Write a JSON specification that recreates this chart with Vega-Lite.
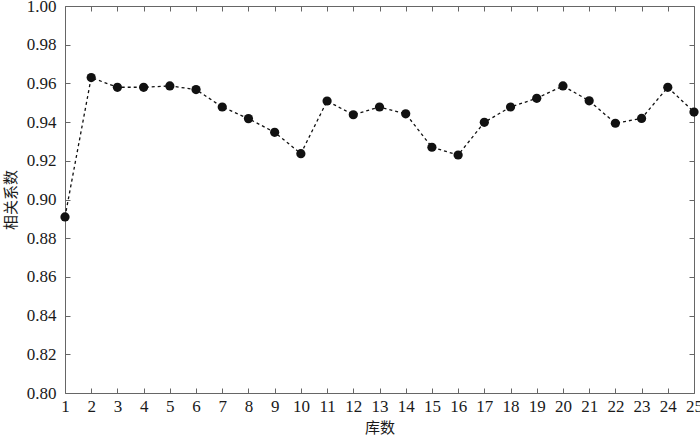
{
  "$schema": "https://vega.github.io/schema/vega-lite/v6.json",
  "width": 629,
  "height": 387,
  "autosize": {"type": "none"},
  "padding": {"left": 65, "top": 6, "right": 6, "bottom": 44},
  "background": "white",
  "config": {
    "view": {"stroke": null},
    "axis": {
      "labelFont": "Liberation Serif",
      "labelFontSize": 17,
      "labelColor": "#1a1a1a",
      "titleFont": "Noto Sans CJK SC",
      "titleFontSize": 15,
      "titleFontWeight": "normal",
      "titleColor": "#1a1a1a",
      "domainColor": "#666",
      "tickColor": "#666",
      "tickSize": -5,
      "grid": false
    }
  },
  "data": {
    "values": [
      {"n": 1, "r": 0.891},
      {"n": 2, "r": 0.963},
      {"n": 3, "r": 0.958},
      {"n": 4, "r": 0.958},
      {"n": 5, "r": 0.9587},
      {"n": 6, "r": 0.9568},
      {"n": 7, "r": 0.9478},
      {"n": 8, "r": 0.9418},
      {"n": 9, "r": 0.9347},
      {"n": 10, "r": 0.9237},
      {"n": 11, "r": 0.9509},
      {"n": 12, "r": 0.9438},
      {"n": 13, "r": 0.9478},
      {"n": 14, "r": 0.9443},
      {"n": 15, "r": 0.927},
      {"n": 16, "r": 0.923},
      {"n": 17, "r": 0.9399},
      {"n": 18, "r": 0.9478},
      {"n": 19, "r": 0.9523},
      {"n": 20, "r": 0.9587},
      {"n": 21, "r": 0.951},
      {"n": 22, "r": 0.9394},
      {"n": 23, "r": 0.9419},
      {"n": 24, "r": 0.958},
      {"n": 25, "r": 0.9452}
    ]
  },
  "resolve": {"axis": {"x": "independent", "y": "independent"}},
  "layer": [
    {
      "mark": {"type": "line", "color": "#111", "strokeWidth": 1.3, "strokeDash": [3, 3]},
      "encoding": {
        "x": {
          "field": "n", "type": "quantitative",
          "scale": {"domain": [1, 25], "nice": false, "zero": false},
          "axis": {"values": [1,2,3,4,5,6,7,8,9,10,11,12,13,14,15,16,17,18,19,20,21,22,23,24,25], "title": "库数", "labelPadding": 10, "titlePadding": 6, "labelFlush": false}
        },
        "y": {
          "field": "r", "type": "quantitative",
          "scale": {"domain": [0.8, 1.0], "nice": false, "zero": false},
          "axis": {"values": [0.8,0.82,0.84,0.86,0.88,0.9,0.92,0.94,0.96,0.98,1.0], "format": ".2f", "title": "相关系数", "labelPadding": 14, "titlePadding": 8, "labelFlush": false}
        }
      }
    },
    {
      "mark": {"type": "point", "filled": true, "color": "#111", "size": 85, "opacity": 1},
      "encoding": {
        "x": {
          "field": "n", "type": "quantitative",
          "axis": {"orient": "top", "values": [1,2,3,4,5,6,7,8,9,10,11,12,13,14,15,16,17,18,19,20,21,22,23,24,25], "labels": false, "title": null}
        },
        "y": {
          "field": "r", "type": "quantitative",
          "axis": {"orient": "right", "values": [0.8,0.82,0.84,0.86,0.88,0.9,0.92,0.94,0.96,0.98,1.0], "labels": false, "title": null}
        }
      }
    }
  ]
}
